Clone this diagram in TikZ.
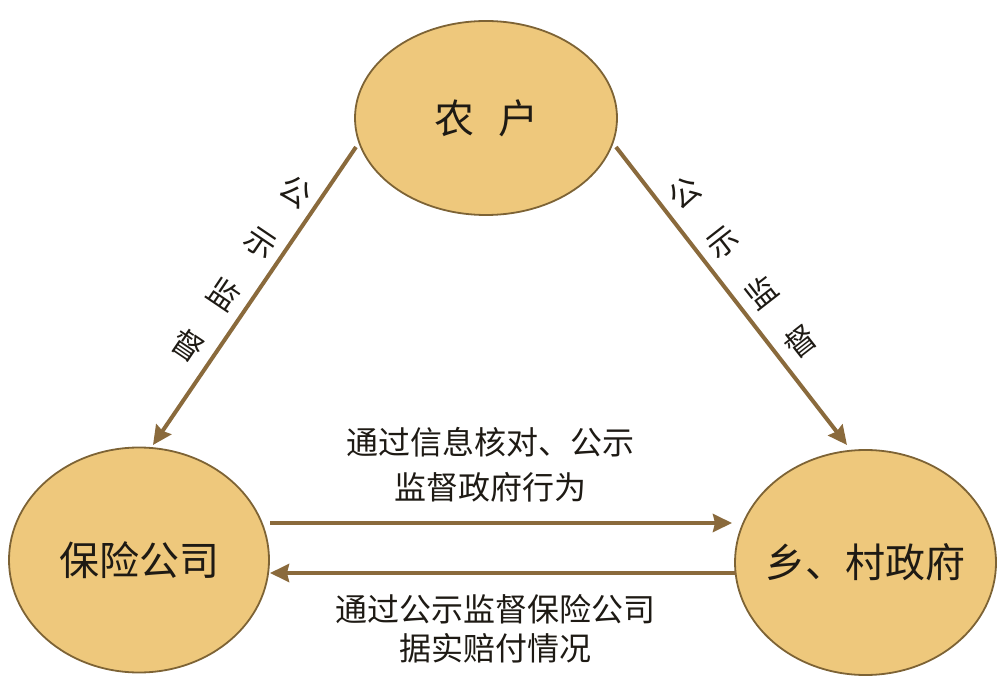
\documentclass[tikz,border=0pt]{standalone}
\usepackage{fontspec}
\newfontfamily\cjk{Noto Sans CJK SC}
\usetikzlibrary{shapes.geometric,arrows.meta}
\definecolor{ellfill}{HTML}{EEC87C}
\definecolor{ellline}{HTML}{7D6335}
\definecolor{arrcol}{HTML}{8A6A3C}
\definecolor{txt}{HTML}{1E1A14}
\newcommand{\ctext}[1]{\makebox[0pt][c]{#1}}
\begin{document}
\begin{tikzpicture}[x=1pt,y=1pt,
  party/.style={ellipse,draw=ellline,line width=1.8pt,fill=ellfill,inner sep=0pt,
    text=txt,font=\cjk\fontsize{40}{40}\selectfont},
  flow/.style={draw=arrcol,line width=4pt,-{Stealth[length=19pt,width=18pt,inset=2pt]}},
  lbl/.style={inner sep=0pt,align=center,text=txt,font=\cjk\fontsize{32}{45}\selectfont},
  lblb/.style={lbl,font=\cjk\fontsize{32}{39}\selectfont},
  sidechar/.style={inner sep=0pt,text=txt,font=\cjk\fontsize{31}{31}\selectfont}]
\useasboundingbox (0,0) rectangle (1003,686);
\node[party,minimum width=262pt,minimum height=194pt] (farm) at (486,568) {\ctext{农\hspace{24pt}户}};
\node[party,minimum width=260pt,minimum height=225pt] (ins) at (139,126) {\ctext{保险公司}};
\node[party,minimum width=261pt,minimum height=225pt] (gov) at (865.5,123.5) {\ctext{乡、村政府}};
% arrows
\draw[flow] ([shift={(-130,-29)}]farm.center) -- ([shift={(14,115)}]ins.center);
\draw[flow] ([shift={(130,-29)}]farm.center) -- ([shift={(-18.5,117.5)}]gov.center);
\draw[flow] ([shift={(131,37)}]ins.center) -- ([shift={(-133.5,39.5)}]gov.center);
\draw[flow] ([shift={(-129.5,-10.5)}]gov.center) -- ([shift={(131,-13)}]ins.center);
% side labels
\node[sidechar,rotate=-34] (l1) at (296,494) {公};
\node[sidechar,rotate=-34] (l2) at (260,443) {示};
\node[sidechar,rotate=-34] (l3) at (224,392) {监};
\node[sidechar,rotate=-34] (l4) at (188,341) {督};
\node[sidechar,rotate=38] (r1) at (685,493) {公};
\node[sidechar,rotate=38] (r2) at (723.3,443.3) {示};
\node[sidechar,rotate=38] (r3) at (761.7,393.7) {监};
\node[sidechar,rotate=38] (r4) at (800,344) {督};
% edge labels
\node[lbl] (top) at (490,221.5) {通过信息核对、公示\\监督政府行为};
\node[lblb] (bot) at (495.5,57.5) {通过公示监督保险公司\\据实赔付情况};
\end{tikzpicture}
\end{document}
